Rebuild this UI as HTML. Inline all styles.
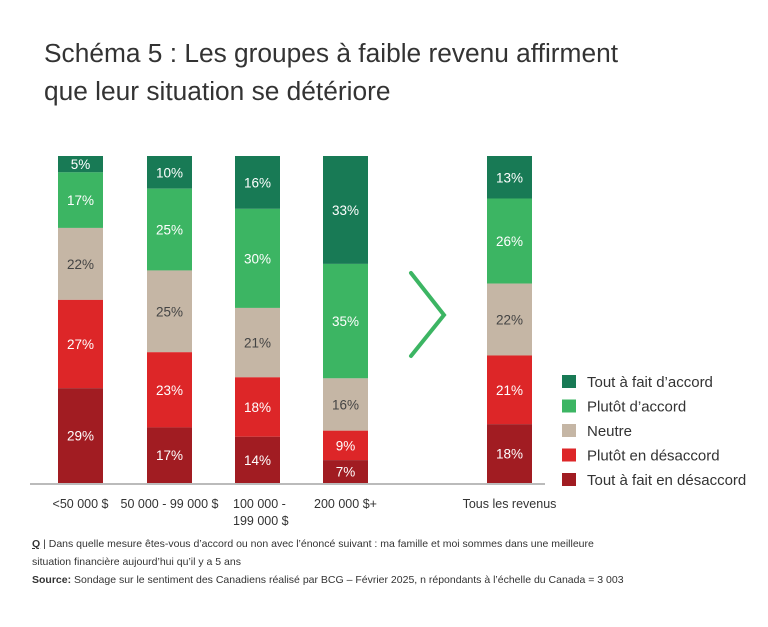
<!DOCTYPE html>
<html><head><meta charset="utf-8"><style>
body{margin:0;width:768px;height:627px;background:#fff;font-family:"Liberation Sans",sans-serif;overflow:hidden;position:relative}
.t{position:absolute;left:44px;top:34px;font-size:26.3px;line-height:38px;color:#333}
.f{position:absolute;left:32px;font-size:10.5px;color:#333}
</style></head><body>
<div class="t">Schéma 5 : Les groupes à faible revenu affirment<br>que leur situation se détériore</div>
<svg id="c" width="768" height="627" style="position:absolute;left:0;top:0"></svg>
<div class="f" style="top:538px"><b><u>Q</u></b> | Dans quelle mesure êtes-vous d’accord ou non avec l’énoncé suivant : ma famille et moi sommes dans une meilleure</div>
<div class="f" style="top:556px">situation financière aujourd’hui qu’il y a 5 ans</div>
<div class="f" style="top:574px"><b>Source:</b> Sondage sur le sentiment des Canadiens réalisé par BCG – Février 2025, n répondants à l’échelle du Canada = 3 003</div>
<script>
const categories=[["<50 000 $"],["50 000 - 99 000 $"],["100 000 -","199 000 $"],["200 000 $+"],["Tous les revenus"]];
const seriesNames=["Tout à fait d’accord","Plutôt d’accord","Neutre","Plutôt en désaccord","Tout à fait en désaccord"];
const toutAccord=[5,10,16,33,13];
const plutotAccord=[17,25,30,35,26];
const neutre=[22,25,21,16,22];
const plutotDesaccord=[27,23,18,9,21];
const toutDesaccord=[29,17,14,7,18];
const series=[toutAccord,plutotAccord,neutre,plutotDesaccord,toutDesaccord];
const colors=["#187a55","#3cb563","#c5b6a5","#dd2628","#a11c22"];
const NS="http://www.w3.org/2000/svg";
const svg=document.getElementById('c');
const barX=[58,147,235,323,487],barW=45,top0=156,bot=483;
function y(v,total){return top0+(bot-top0)*v/total;}
function mk(t,a){const e=document.createElementNS(NS,t);for(const k in a)e.setAttribute(k,a[k]);svg.appendChild(e);return e;}
const ax=mk('line',{x1:30,x2:545,y1:bot+1,y2:bot+1,stroke:'#bbb','stroke-width':2});


categories.forEach((cat,i)=>{
  const total=series.reduce((s,a)=>s+a[i],0);
  let acc=0;
  series.forEach((arr,j)=>{
    const v=arr[i];const y1=y(acc,total),y2=y(acc+v,total);acc+=v;
    const r=mk('rect',{x:barX[i],y:y1,width:barW,height:y2-y1,fill:colors[j]});
    
    
    const tx=mk('text',{x:barX[i]+barW/2,y:(y1+y2)/2+5,'text-anchor':'middle','font-size':13.5,fill:j==2?'#444':'#fff'});
    tx.textContent=v+'%';
    
    
  });
  cat.forEach((line,k)=>{
    const lx=i==2?barX[i]-2:barX[i]+barW/2;
    const t=mk('text',{x:lx,y:508+k*17,'text-anchor':i==2?'start':'middle','font-size':12.5,fill:'#333'});
    t.textContent=line;
    
    
  });
});
const ch=mk('polyline',{points:'411,273 444,315 411,356',fill:'none',stroke:'#3cb563','stroke-width':4,'stroke-linecap':'round'});


seriesNames.forEach((n,j)=>{
  const yy=375+j*24.5;
  const r=mk('rect',{x:562,y:yy,width:14,height:13,fill:colors[j]});
  
  
  const t=mk('text',{x:587,y:yy+12,'font-size':15,fill:'#333'});
  t.textContent=n;
  
  
});
</script>
</body></html>
